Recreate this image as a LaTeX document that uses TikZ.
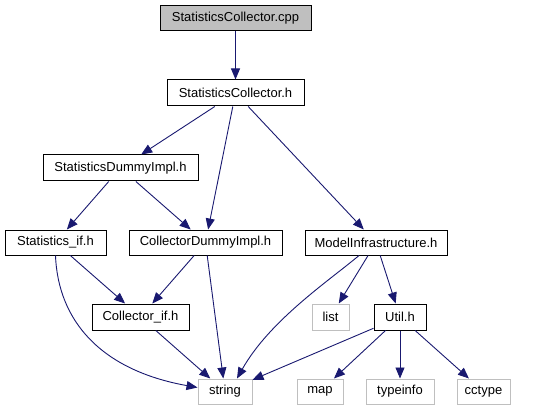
\documentclass[tikz,border=0pt]{standalone}
\usepackage{fontspec}
\setmainfont{Liberation Sans}
\usetikzlibrary{arrows.meta,calc}
\definecolor{edgeblue}{RGB}{25,25,112}
\definecolor{lightgr}{RGB}{191,191,191}
\tikzset{
  box/.style={draw=black, line width=1pt, fill=white, inner sep=0pt, minimum height=25pt, font=\fontsize{13}{15}\selectfont},
  sysbox/.style={draw=lightgr, line width=1pt, fill=white, inner sep=0pt, minimum height=25pt, font=\fontsize{13}{15}\selectfont},
  dep/.style={draw=edgeblue, line width=0.9pt, -{Triangle[length=11pt,width=9pt]}}
}
\begin{document}
\begin{tikzpicture}[x=1pt,y=-1pt]
\useasboundingbox (0,0) rectangle (534,411);
\node[box, fill=lightgr, minimum width=151pt] (cpp) at (235.5,18.5) {StatisticsCollector.cpp};
\node[box, minimum width=137pt, minimum height=26pt] (sch) at (235.5,93) {StatisticsCollector.h};
\node[box, minimum width=155pt, minimum height=26pt] (sdi) at (120.5,168) {StatisticsDummyImpl.h};
\node[box, minimum width=101pt] (sif) at (55.5,242.5) {Statistics\_if.h};
\node[box, minimum width=153pt] (cdi) at (205.5,242.5) {CollectorDummyImpl.h};
\node[box, minimum width=142pt] (mi) at (376,242.5) {ModelInfrastructure.h};
\node[box, minimum width=97pt, minimum height=26pt] (cif) at (140.5,317) {Collector\_if.h};
\node[sysbox, minimum width=37pt, minimum height=26pt] (list) at (330.5,317) {list};
\node[box, minimum width=52pt, minimum height=26pt] (util) at (400,317) {Util.h};
\node[sysbox, minimum width=54pt] (string) at (225,391.5) {string};
\node[sysbox, minimum width=46pt] (map) at (320,391.5) {map};
\node[sysbox, minimum width=68pt] (typeinfo) at (400,391.5) {typeinfo};
\node[sysbox, minimum width=53pt] (cctype) at (483.5,391.5) {cctype};

\draw[dep] (cpp) -- (sch);
\draw[dep] (sch) -- (sdi);
\draw[dep] (sch) -- (cdi);
\draw[dep] (sch) -- (mi);
\draw[dep] (sdi) -- (sif);
\draw[dep] (sdi) -- (cdi);
\draw[dep] (sif) -- (cif);
\draw[dep] (sif.south) .. controls (58,320) and (100,370) .. ($(string.west)+(0,-4)$);
\draw[dep] (cdi) -- (string);
\draw[dep] (cdi) -- (cif);
\draw[dep] (cif) -- (string);
\draw[dep] ($(mi.south)+(-17,0)$) .. controls (330,280) and (270,320) .. ($(string.north)+(12,0)$);
\draw[dep] (mi) -- (list);
\draw[dep] (mi) -- (util);
\draw[dep] (util) -- (string);
\draw[dep] (util) -- (map);
\draw[dep] (util) -- (typeinfo);
\draw[dep] (util) -- (cctype);
\end{tikzpicture}
\end{document}
